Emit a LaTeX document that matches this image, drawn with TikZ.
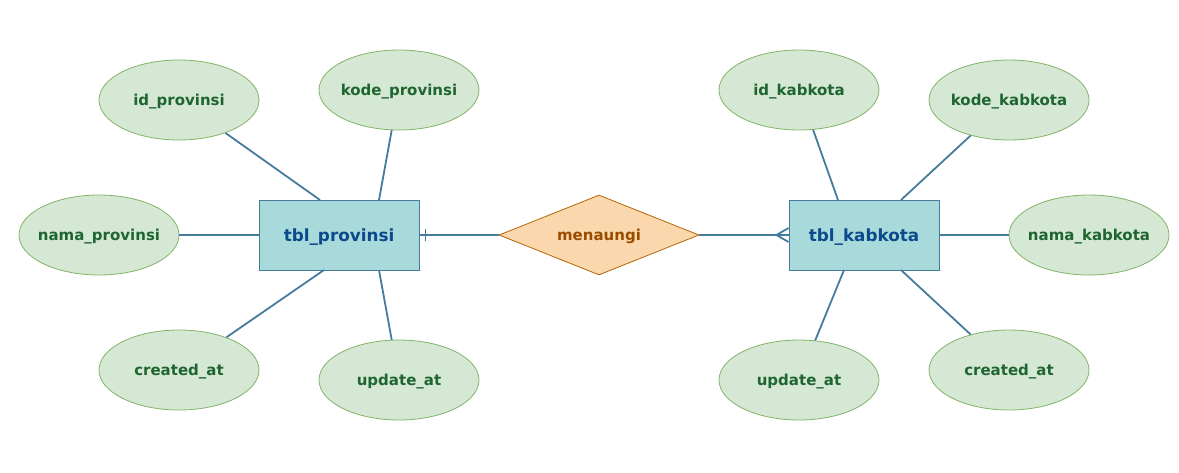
\documentclass[tikz,border=0pt]{standalone}
\usepackage{fontspec}
\setmainfont{DejaVu Sans}
\usetikzlibrary{shapes.geometric,calc}
\definecolor{edgec}{HTML}{457B9D}
\definecolor{rectfill}{HTML}{A8DADC}
\definecolor{recttext}{HTML}{0B4A8B}
\definecolor{ellfill}{HTML}{D5E8D4}
\definecolor{elldraw}{HTML}{82B366}
\definecolor{elltext}{HTML}{1E6530}
\definecolor{diafill}{HTML}{FAD7AC}
\definecolor{diadraw}{HTML}{B46504}
\definecolor{diatext}{HTML}{994C00}
\begin{document}
\begin{tikzpicture}[x=1pt,y=-1pt,
  entity/.style={rectangle,draw=edgec,fill=rectfill,line width=1pt,minimum width=160pt,minimum height=70pt,inner sep=0pt,text depth=0pt,text=recttext,font=\fontsize{16.8}{18}\selectfont\bfseries},
  attr/.style={ellipse,draw=elldraw,fill=ellfill,line width=0.8pt,minimum width=160pt,minimum height=80pt,inner sep=-20pt,text depth=0pt,text=elltext,font=\fontsize{15}{16}\selectfont\bfseries},
  rel/.style={diamond,draw=diadraw,fill=diafill,line width=0.8pt,aspect=2.5,minimum width=200pt,minimum height=80pt,inner sep=0pt,text depth=0pt,text=diatext,font=\fontsize{15}{16}\selectfont\bfseries},
  conn/.style={draw=edgec,line width=1.8pt}]
\useasboundingbox (0,0) rectangle (1179,472);
% entities
\node[entity] (p) at (339,235) {tbl\_provinsi};
\node[entity,minimum width=150pt] (k) at (864,235) {tbl\_kabkota};
\node[rel] (r) at (599,235) {menaungi};
% attributes left
\node[attr] (idp) at (179,100) {id\_provinsi};
\node[attr] (kdp) at (399,90) {kode\_provinsi};
\node[attr] (nmp) at (99,235) {nama\_provinsi};
\node[attr] (crp) at (179,370) {created\_at};
\node[attr] (upp) at (399,380) {update\_at};
% attributes right
\node[attr] (idk) at (799,90) {id\_kabkota};
\node[attr] (kdk) at (1009,100) {kode\_kabkota};
\node[attr] (nmk) at (1089,235) {nama\_kabkota};
\node[attr] (upk) at (799,380) {update\_at};
\node[attr] (crk) at (1009,370) {created\_at};
% anchor coordinates on entities
\coordinate (pA) at (320,200);
\coordinate (pB) at (379,200);
\coordinate (pC) at (324,270);
\coordinate (pD) at (379,270);
\coordinate (kA) at (838,200);
\coordinate (kB) at (901,200);
\coordinate (kC) at (844,270);
\coordinate (kD) at (901,270);
% connectors
\draw[conn] (idp) -- (pA);
\draw[conn] (kdp) -- (pB);
\draw[conn] (nmp) -- (p);
\draw[conn] (crp) -- (pC);
\draw[conn] (upp) -- (pD);
\draw[conn] (idk) -- (kA);
\draw[conn] (kdk) -- (kB);
\draw[conn] (nmk) -- (k);
\draw[conn] (upk) -- (kC);
\draw[conn] (crk) -- (kD);
\draw[conn] (p) -- (r);
\draw[conn] (r) -- (k);
% cardinality marks
\draw[conn] ($(p.east)+(6,-6)$) -- ($(p.east)+(6,6)$);
\draw[conn] ($(k.west)+(-12,0)$) -- ($(k.west)+(0,-7)$);
\draw[conn] ($(k.west)+(-12,0)$) -- ($(k.west)+(0,7)$);
\end{tikzpicture}
\end{document}
